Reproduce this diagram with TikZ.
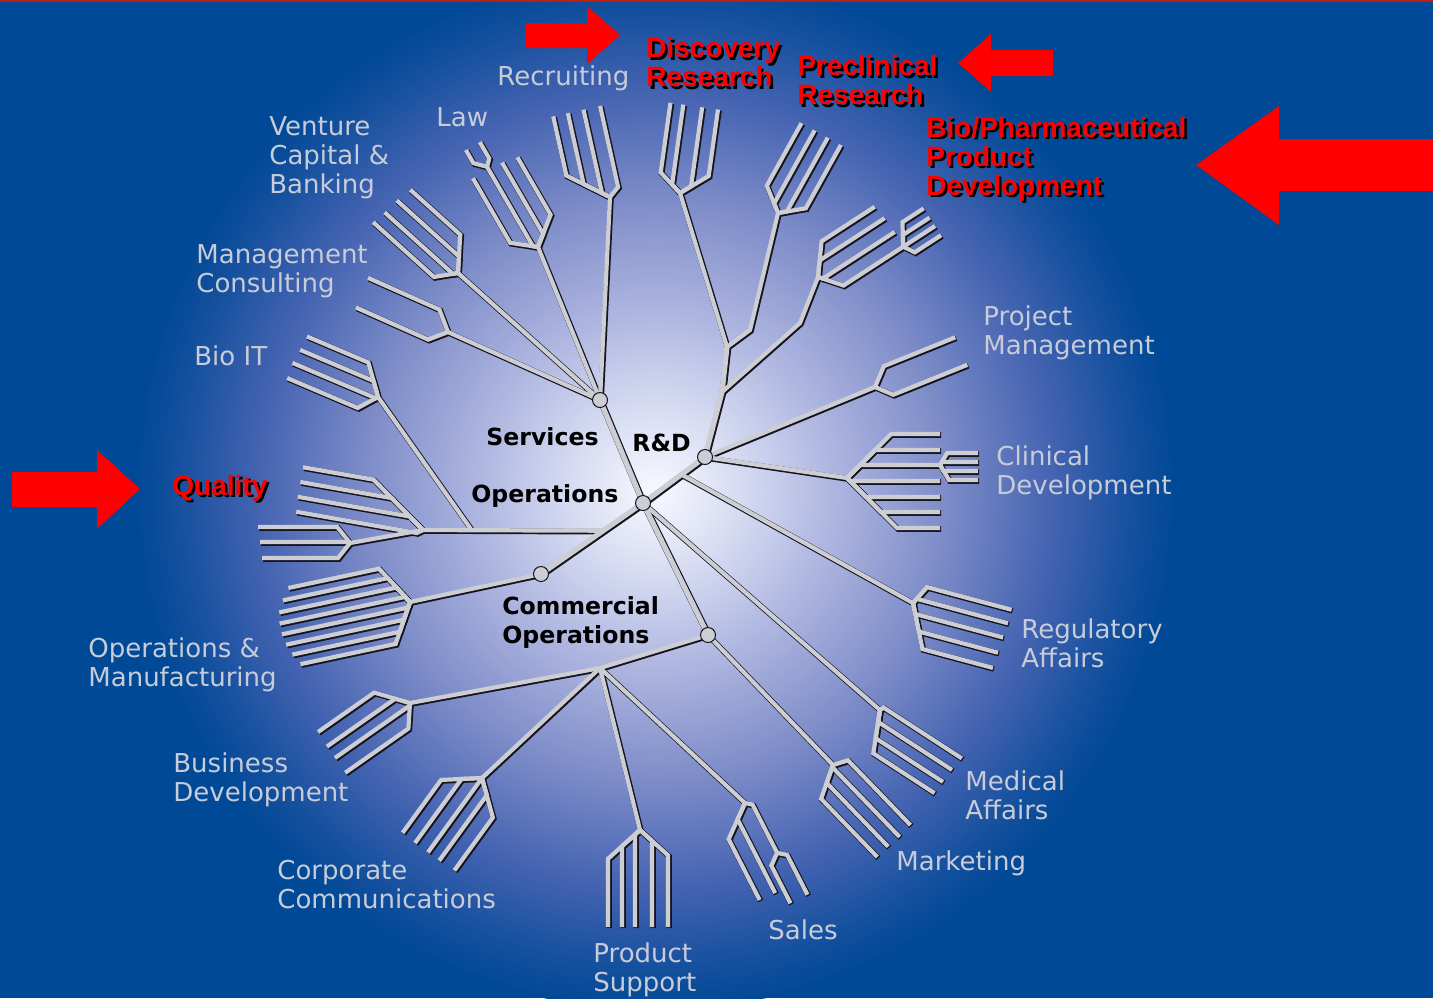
\documentclass[tikz,border=0pt]{standalone}
\usepackage{fontspec}
\setmainfont{DejaVu Sans}
\newfontfamily\redfont{Liberation Sans}
\usetikzlibrary{calc}

\definecolor{bgblue}{RGB}{0,73,150}
\definecolor{twgray}{RGB}{205,205,212}
\definecolor{twdark}{RGB}{20,20,32}
\definecolor{labgray}{RGB}{200,204,216}
\definecolor{arred}{RGB}{255,0,0}
\definecolor{topred}{RGB}{190,30,20}
\definecolor{gl0}{RGB}{248,248,255}
\definecolor{gl1}{RGB}{215,220,242}
\definecolor{gl2}{RGB}{170,178,222}
\definecolor{gl3}{RGB}{125,140,200}
\definecolor{gl4}{RGB}{70,100,178}
\definecolor{gl5}{RGB}{20,80,158}
\pgfdeclareradialshading{glow}{\pgfpoint{0bp}{0bp}}{color(0bp)=(gl0); color(4bp)=(gl1); color(9bp)=(gl2); color(14bp)=(gl3); color(19bp)=(gl4); color(23bp)=(gl5); color(25bp)=(bgblue); color(50bp)=(bgblue)}

% one fork: prongs given as lateral offset / length
\newcommand{\rake}[2][0.8]{\foreach \dy/\len in {#2}{\draw[tw] (0,0) -- ({#1*abs(\dy)},\dy) -- (\len,\dy);}}
% red text with black shadow
\newcommand{\shtext}[3]{\node[rl,text=black] (#1s) at ($(#2)+(2.5,2.5)$) {#3};
\node[rl,text=arred] (#1) at (#2) {#3};}

% the whole tree, drawn twice (shadow, then light)
\newcommand{\tree}{%
\draw[tk] (O) -- (S);
\draw[tk] (O) -- (R);
\draw[tk] (O) -- (C);
\draw[tk] (O) -- (P);
\draw[tk] (R) -- (b1) -- (b2);
% R&D
\draw[tw] (b2) -- (disc);
\draw[tw] (b2) -- (pc1) -- (pcf);
\draw[tw] (b1) -- (bp1) -- (bpf);
\draw[tw] (R) -- (pm);
\draw[tw] (R) -- (cd);
\draw[tw] (reg0) -- (reg);
% Services
\draw[tw] (S) -- (rec);
\draw[tw] (S) -- (law);
\draw[tw] (S) -- (vc);
\draw[tw] (S) -- (mc);
% Operations
\draw[tw] (qa) -- (q1) -- (q2);
\draw[tw] (bi0) -- (bit);
\draw[tw] (C) -- (om);
% Commercial
\draw[tw] (O) -- (med);
\draw[tw] (P) -- (mkt);
\draw[tw] (P) -- (P2);
\draw[tw] (P2) -- (bd);
\draw[tw] (P2) -- (cc);
\draw[tw] (P2) -- (ps);
\draw[tw] (P2) -- (sal);
% forks
\begin{scope}[shift={(rec)},rotate=102.5]\rake{-38/91,-23/91,-7/91,10/91}\end{scope}
\begin{scope}[shift={(disc)},rotate=82]\rake{-22/88,-9/88,10/88,26/88}\end{scope}
\begin{scope}[shift={(pcf)},rotate=61]\rake{-23/90,-8/90,7/90,22/90}\end{scope}
\begin{scope}[shift={(bpf)},rotate=33]\rake{-28/86,-13/88,4/89,21/88}
  \begin{scope}[shift={(88,21)}]\rake[0.6]{-21/38,-10/38,0/38,11/38}\end{scope}\end{scope}
\begin{scope}[shift={(law)},rotate=120]\rake{-22/92,-4/95,11/91,27/88}
  \begin{scope}[shift={(95,-4)}]\rake[1]{-10/25,6/25}\end{scope}\end{scope}
\begin{scope}[shift={(vc)},rotate=138]\rake{-19/97,-4/95,13/94,30/91}\end{scope}
\begin{scope}[shift={(mc)},rotate=156]\rake[1]{-15/94,17/95}\end{scope}
\begin{scope}[shift={(bit)},rotate=157]\rake{-18/91,-2/92,13/90,28/89}\end{scope}
\begin{scope}[shift={(q1)},rotate=170]\rake[1.4]{-4/128,11/129,26/129,41/129}\end{scope}
\begin{scope}[shift={(q2)},rotate=180]\rake{-15/88,1/90,16/92}\end{scope}
\begin{scope}[shift={(om)},rotate=192]\rake[0.6]{-38/120,-27/126,-16/130,-5/132,6/132,17/130,28/124,39/116}\end{scope}
\begin{scope}[shift={(mkt)},rotate=314]\rake[0.5]{-14/97,2/98,17/97,32/97}\end{scope}
\begin{scope}[shift={(bd)},rotate=215]\rake{-20/93,-2/93,12/93,29/92}\end{scope}
\begin{scope}[shift={(cc)},rotate=234]\rake{-32/91,-14/92,0/92,16/92,32/91}\end{scope}
\begin{scope}[shift={(ps)},rotate=270]\rake[0.9]{-28/97,-12/97,5/97,18/97,32/97}\end{scope}
\begin{scope}[shift={(sal)},rotate=297]\rake{31/93,14/94,-6/59}
  \begin{scope}[shift={(59,-6)}]\rake{11/51,-8/51}\end{scope}\end{scope}
\begin{scope}[shift={(med)},rotate=327]\rake[0.45]{-4/95,11/93,26/92,40/91}\end{scope}
\begin{scope}[shift={(reg)},rotate=345]\rake[0.5]{-19/97,-5/97,10/96,26/95,42/94}\end{scope}
\begin{scope}[shift={(cd)},rotate=0]\rake[1]{-44/93,-28/93,-13/93,3/93,19/93,34/93,50/93}
  \begin{scope}[shift={(93,-13)}]\rake[0.6]{-12/38,-3/38,6/38,15/38}\end{scope}\end{scope}
\begin{scope}[shift={(pm)},rotate=22]\rake[1]{-16/93,14/94}\end{scope}
}

\begin{document}
\begin{tikzpicture}
[x=0.5pt,y=-0.5pt
,hub/.style={circle,fill=twgray,draw=twdark,line width=0.5pt,minimum size=7.5pt,inner sep=0pt}
,lab/.style={text=labgray,font=\fontsize{13}{14.5}\selectfont,align=left,anchor=west,inner sep=0pt}
,hl/.style={text=black,font=\fontsize{11.8}{14.5}\selectfont\bfseries,align=left,anchor=west,inner sep=0pt}
,rl/.style={font=\redfont\bfseries\fontsize{14}{14.5}\selectfont,align=left,anchor=west,inner sep=0pt}
,arr/.style={fill=arred}]
\useasboundingbox (0,0) rectangle (1433,998);
\fill[bgblue] (0,0) rectangle (1433,998);
\begin{scope}
\clip (0,0) rectangle (1433,998);
\shade[shading=glow] (655,490) circle (520);
\end{scope}
\draw[topred,line width=1pt] (0,1) -- (1433,1);

% hubs and fork points
\coordinate (O) at (643,503);
\coordinate (S) at (600,400);
\coordinate (R) at (705,457);
\coordinate (C) at (541,574);
\coordinate (P) at (708,635);
\coordinate (P2) at (600,668);
\coordinate (b1) at (722,392);
\coordinate (b2) at (727,347);
\coordinate (bp1) at (800,323);
\coordinate (bpf) at (818,277);
\coordinate (pc1) at (750,330);
\coordinate (pcf) at (778,213);
\coordinate (disc) at (680,193);
\coordinate (rec) at (610,197);
\coordinate (law) at (538,247);
\coordinate (vc) at (458,273);
\coordinate (mc) at (448,332);
\coordinate (qa) at ($(O)!0.39!(C)$);
\coordinate (q1) at (423,530);
\coordinate (q2) at (350,543);
\coordinate (bi0) at ($(qa)!0.73!(q1)$);
\coordinate (bit) at (378,397);
\coordinate (om) at (410,602);
\coordinate (mkt) at (833,765);
\coordinate (bd) at (410,703);
\coordinate (cc) at (482,778);
\coordinate (ps) at (640,830);
\coordinate (sal) at (745,803);
\coordinate (med) at (880,710);
\coordinate (reg0) at ($(O)!0.62!(R)$);
\coordinate (reg) at (913,603);
\coordinate (cd) at (847,478);
\coordinate (pm) at (875,387);

\begin{scope}[transform canvas={shift={(0.5pt,-0.5pt)}}
,tw/.style={draw=twdark,line width=2.8pt}
,tk/.style={draw=twdark,line width=3.3pt}]
\tree
\end{scope}
\begin{scope}[tw/.style={draw=twgray,line width=2.1pt}
,tk/.style={draw=twgray,line width=2.6pt}]
\tree
\end{scope}
\foreach \h in {O,S,R,C,P}
  \node[hub] (\h dot) at (\h) {};

% labels
\node[hl] (lserv) at (486,437) {Services};
\node[hl] (lrd) at (632,443) {R\&D};
\node[hl] (lops) at (471,496) {Operations};
\node[hl] (lcom) at (502,622) {Commercial\\Operations};
\node[lab] (lrec) at (497,78) {Recruiting};
\node[lab] (llaw) at (436,117) {Law};
\node[lab] (lvc) at (269,158) {Venture\\Capital \&\\Banking};
\node[lab] (lmc) at (196,271) {Management\\Consulting};
\node[lab] (lbit) at (194,356) {Bio IT};
\node[lab] (lom) at (88,665) {Operations \&\\Manufacturing};
\node[lab] (lbd) at (173,780) {Business\\Development};
\node[lab] (lcc) at (277,885) {Corporate\\Communications};
\node[lab] (lps) at (593,970) {Product\\Support};
\node[lab] (lsal) at (768,930) {Sales};
\node[lab] (lmkt) at (896,863) {Marketing};
\node[lab] (lmed) at (965,795) {Medical\\Affairs};
\node[lab] (lreg) at (1021,643) {Regulatory\\Affairs};
\node[lab] (lcd) at (996,473) {Clinical\\Development};
\node[lab] (lpm) at (983,333) {Project\\Management};
\shtext{ldisc}{646,62}{Discovery\\Research}
\shtext{lpre}{797,80}{Preclinical\\Research}
\shtext{lbio}{926,159}{Bio/Pharmaceutical\\Product\\Development}
\shtext{lqual}{172,488}{Quality}

% red arrows
\fill[arr] (525,23) -- (587,23) -- (587,6) -- (620,35) -- (587,64) -- (587,48) -- (525,48) -- cycle;
\fill[arr] (1053,50) -- (991,50) -- (991,34) -- (958,63) -- (991,92) -- (991,76) -- (1053,76) -- cycle;
\fill[arr] (1433,139) -- (1279,139) -- (1279,106) -- (1196,165) -- (1279,225) -- (1279,191) -- (1433,191) -- cycle;
\fill[arr] (12,472) -- (97,472) -- (97,450) -- (140,489) -- (97,529) -- (97,507) -- (12,507) -- cycle;
\end{tikzpicture}
\end{document}
